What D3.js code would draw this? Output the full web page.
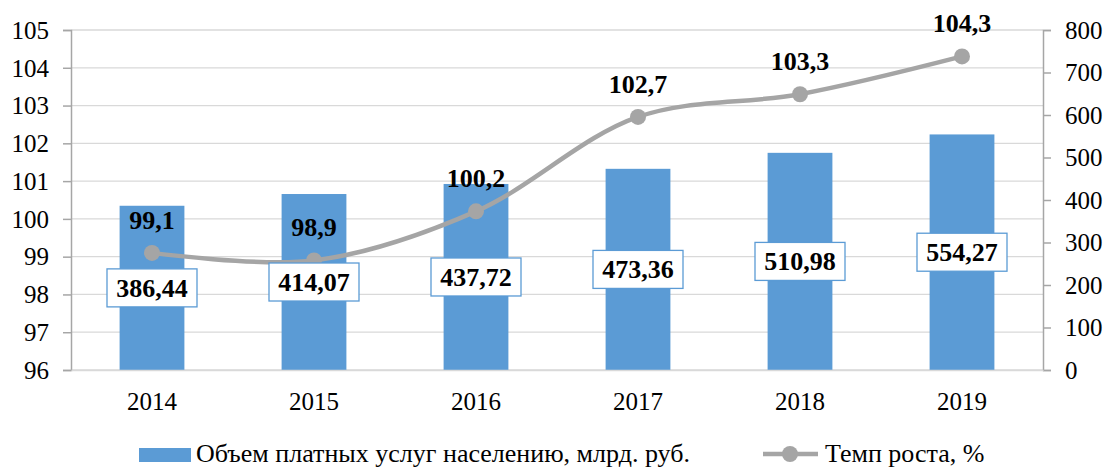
<!DOCTYPE html>
<html>
<head>
<meta charset="utf-8">
<script src="https://cdn.jsdelivr.net/npm/d3@7"></script>
<style>
  body { margin: 0; background: #fff; }
  svg text { font-family: "Times New Roman", "Liberation Serif", "DejaVu Serif", serif; fill: #000; }
</style>
</head>
<body>
<div class="chart"></div>
<script>
// chart data
var years = ["2014", "2015", "2016", "2017", "2018", "2019"];
var volume = [386.44, 414.07, 437.72, 473.36, 510.98, 554.27];
var growth = [99.1, 98.9, 100.2, 102.7, 103.3, 104.3];
var leftTicks = [96, 97, 98, 99, 100, 101, 102, 103, 104, 105];
var rightTicks = [0, 100, 200, 300, 400, 500, 600, 700, 800];
var seriesNames = ["Объем платных услуг населению, млрд. руб.", "Темп роста, %"];

var svgWidth = 1108;
var svgHeight = 468;
var margin = { top: 30, right: 65, bottom: 98, left: 71 };
var width = svgWidth - margin.left - margin.right;
var height = svgHeight - margin.top - margin.bottom;
var serif = "'Times New Roman', 'Liberation Serif', serif";

var fmt = function(v, n) { return v.toFixed(n).replace(".", ","); };

var svg = d3.select(".chart").append("svg")
    .attr("width", svgWidth)
    .attr("height", svgHeight);

var chartGroup = svg.append("g")
    .attr("transform", `translate(${margin.left}, ${margin.top})`);

var x = d3.scaleBand()
    .domain(years)
    .range([0, width])
    .paddingInner(0.6)
    .paddingOuter(0.3);

var yLeft = d3.scaleLinear().domain([96, 105]).range([height, 0]);
var yRight = d3.scaleLinear().domain([0, 800]).range([height, 0]);

// gridlines from left axis
chartGroup.append("g")
    .selectAll("line")
    .data(leftTicks)
    .enter()
    .append("line")
    .attr("x1", 0)
    .attr("x2", width)
    .attr("y1", d => yLeft(d))
    .attr("y2", d => yLeft(d))
    .attr("stroke", "#d9d9d9")
    .attr("stroke-width", 1.3);

// bars
chartGroup.selectAll("rect.bar")
    .data(volume)
    .enter()
    .append("rect")
    .attr("class", "bar")
    .attr("x", (d, i) => x(years[i]))
    .attr("y", d => yRight(d))
    .attr("width", x.bandwidth())
    .attr("height", d => height - yRight(d))
    .attr("fill", "#5b9bd5");

// axes
var leftAxis = d3.axisLeft(yLeft).tickValues(leftTicks).tickSize(8).tickPadding(14);
var rightAxis = d3.axisRight(yRight).tickValues(rightTicks).tickSize(8).tickPadding(14);
var bottomAxis = d3.axisBottom(x).tickSize(0).tickPadding(22);

var gl = chartGroup.append("g").call(leftAxis);
var gr = chartGroup.append("g").attr("transform", `translate(${width}, 0)`).call(rightAxis);
var gb = chartGroup.append("g").attr("transform", `translate(0, ${height})`).call(bottomAxis);

[gl, gr, gb].forEach(function(g) {
    g.attr("font-family", serif).attr("font-size", 25);
    g.selectAll("text").attr("fill", "#000");
});
[gl, gr].forEach(function(g) {
    g.select(".domain").attr("stroke", "#a6a6a6").attr("stroke-width", 1.5);
    g.selectAll(".tick line").attr("stroke", "#a6a6a6").attr("stroke-width", 1.5);
    g.selectAll(".tick text").attr("dy", "0.33em");
});
gb.select(".domain").attr("stroke", "#d9d9d9").attr("stroke-width", 1.3);

// growth line
var cx = i => x(years[i]) + x.bandwidth() / 2;
var line = d3.line()
    .x((d, i) => cx(i))
    .y(d => yLeft(d))
    .curve(d3.curveCatmullRom.alpha(0.5));

chartGroup.append("path")
    .datum(growth)
    .attr("d", line)
    .attr("fill", "none")
    .attr("stroke", "#a5a5a5")
    .attr("stroke-width", 4.5);

chartGroup.selectAll("circle.pt")
    .data(growth)
    .enter()
    .append("circle")
    .attr("class", "pt")
    .attr("cx", (d, i) => cx(i))
    .attr("cy", d => yLeft(d))
    .attr("r", 8)
    .attr("fill", "#a5a5a5");

// line labels
chartGroup.selectAll("text.glabel")
    .data(growth)
    .enter()
    .append("text")
    .attr("class", "glabel")
    .attr("x", (d, i) => cx(i))
    .attr("y", d => yLeft(d) - 24)
    .attr("text-anchor", "middle")
    .style("font-size", "26px")
    .style("font-weight", "bold")
    .text(d => fmt(d, 1));

// bar labels in boxes
var boxes = chartGroup.selectAll("g.vlabel")
    .data(volume)
    .enter()
    .append("g")
    .attr("class", "vlabel")
    .attr("transform", (d, i) => `translate(${cx(i)}, ${(yRight(d) + height) / 2})`);

boxes.append("rect")
    .attr("x", -45)
    .attr("y", -19)
    .attr("width", 90)
    .attr("height", 38)
    .attr("fill", "#fff")
    .attr("stroke", "#5b9bd5")
    .attr("stroke-width", 1.3);

boxes.append("text")
    .attr("text-anchor", "middle")
    .attr("dy", "0.34em")
    .style("font-size", "26px")
    .style("font-weight", "bold")
    .text(d => fmt(d, 2));

// legend
var legend = svg.append("g");
legend.append("rect")
    .attr("x", 139).attr("y", 448)
    .attr("width", 52).attr("height", 14)
    .attr("fill", "#5b9bd5");
legend.append("text")
    .attr("x", 196).attr("y", 462)
    .style("font-size", "26px")
    .text(seriesNames[0]);

legend.append("line")
    .attr("x1", 763).attr("x2", 818)
    .attr("y1", 454).attr("y2", 454)
    .attr("stroke", "#a5a5a5")
    .attr("stroke-width", 4.5);
legend.append("circle")
    .attr("cx", 790).attr("cy", 454).attr("r", 8)
    .attr("fill", "#a5a5a5");
legend.append("text")
    .attr("x", 825).attr("y", 462)
    .style("font-size", "26px")
    .text(seriesNames[1]);
</script>
</body>
</html>
